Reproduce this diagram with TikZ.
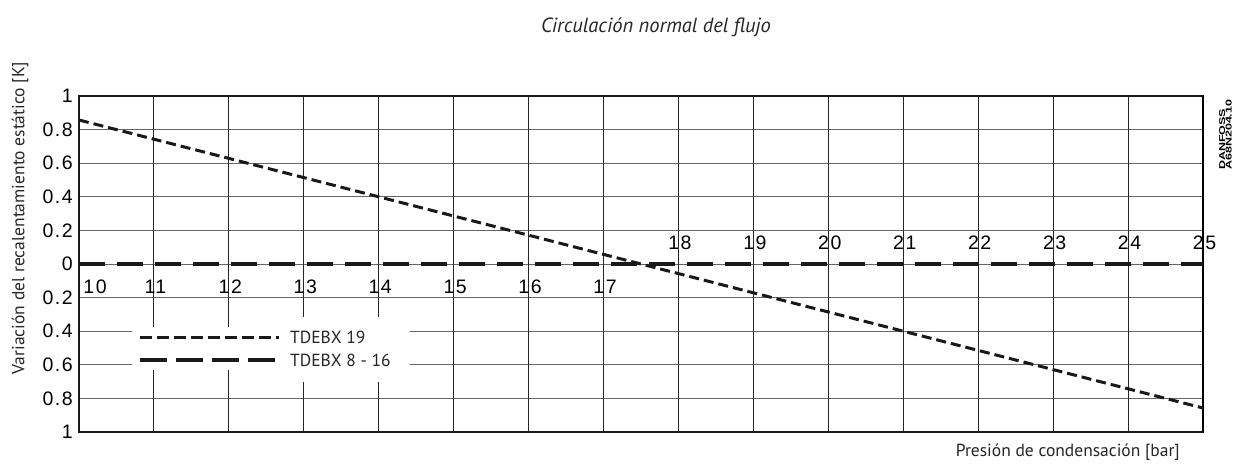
\documentclass[tikz,border=0pt]{standalone}
\usepackage{fontspec}
\setmainfont{PT Sans}
\newfontfamily\tickfont[LetterSpace=8]{Liberation Sans}
\newfontfamily\codefont{Liberation Sans}
\begin{document}
\begin{tikzpicture}[x=1pt,y=-1pt,
  hgrid/.style={draw=black!60,line width=1pt},
  vgrid/.style={draw=black!85,line width=1pt},
  frameline/.style={draw=black!90,line width=1.2pt},
  shortdash/.style={draw=black!90,line width=3pt,dash pattern=on 10pt off 5pt},
  longdash/.style={draw=black!90,line width=3.6pt,dash pattern=on 26pt off 12pt},
  ticklab/.style={font=\tickfont\fontsize{19.5}{19.5}\selectfont,inner sep=0pt},
  axlab/.style={font=\fontsize{17.5}{18}\selectfont,inner sep=0pt,text=black!85},
  leglab/.style={font=\fontsize{17.5}{18}\selectfont,inner sep=0pt,anchor=west,text=black!85},
  codelab/.style={font=\codefont\bfseries\fontsize{12.5}{12.5}\selectfont,rotate=90,anchor=base west,inner sep=0pt}]
\useasboundingbox (0,0) rectangle (1238,466);
% grid
\foreach \k in {1,...,9}{
  \draw[hgrid] (79,{96+33.6*\k}) -- (1203,{96+33.6*\k});
}
\foreach \i in {1,...,14}{
  \draw[vgrid] ({79+74.933*\i},96) -- ({79+74.933*\i},432);
}
% legend gaps
\fill[white] (132,327) rectangle (410,370);
\fill[white] (290,317) rectangle (395,382);
% frame
\draw[frameline] (79,96) rectangle (1203,432);
\draw[draw=black,line width=2pt] (1203,96) -- (1203,432);
% data lines
\coordinate (z0) at (79,264);
\coordinate (z1) at (1203,264);
\coordinate (d0) at (79,120);
\coordinate (d1) at (1203,408);
\draw[longdash] (z0) -- (z1);
\draw[shortdash] (d0) -- (d1);
% y tick labels
\foreach \v/\t in {0/1,1/0.8,2/0.6,3/0.4,4/0.2,5/0,6/0.2,7/0.4,8/0.6,9/0.8,10/1}{
  \node[ticklab,anchor=east] (y\v) at (73,{96+33.6*\v}) {\t};
}
% x tick labels
\node[ticklab] (x10) at (95,287) {10};
\foreach \p in {11,...,17}{
  \node[ticklab] (x\p) at ({79+74.933*(\p-10)+1.5},287) {\p};
}
\foreach \p in {18,...,25}{
  \node[ticklab] (x\p) at ({79+74.933*(\p-10)+1.5},243) {\p};
}
% legend
\coordinate (l1a) at (140,337);
\coordinate (l1b) at (279,337);
\coordinate (l2a) at (140,360);
\coordinate (l2b) at (279,360);
\draw[draw=black!90,line width=3pt,dash pattern=on 12pt off 5pt] (l1a) -- (l1b);
\draw[draw=black!90,line width=3.6pt,dash pattern=on 27pt off 9pt] (l2a) -- (l2b);
\node[leglab] (leg1) at (290,337) {TDEBX 19};
\node[leglab] (leg2) at (290,360) {TDEBX 8 - 16};
% titles
\node[axlab,font=\itshape\fontsize{20.5}{21}\selectfont] (title) at (656,27) {Circulación normal del flujo};
\node[axlab,anchor=east] (xlab) at (1180,452) {Presión de condensación [bar]};
\node[axlab,rotate=90] (ylab) at (20,218) {Variación del recalentamiento estático [K]};
\node[codelab] (code1) at (1225,170) {\scalebox{1}[0.68]{DANFOSS}};
\node[codelab] (code2) at (1231.5,170) {\scalebox{1}[0.68]{A68N204.10}};
\end{tikzpicture}
\end{document}
